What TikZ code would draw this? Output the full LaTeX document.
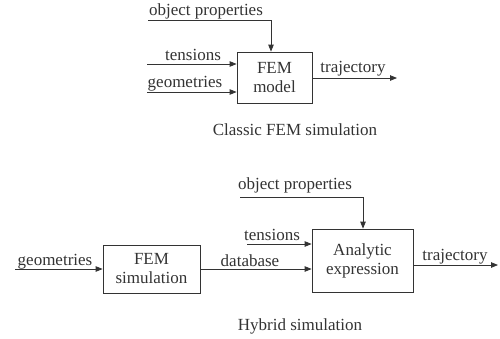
\documentclass[tikz,border=0pt]{standalone}
\usepackage{fontspec}
\setmainfont{Liberation Serif}
\usetikzlibrary{arrows.meta}
\definecolor{ink}{HTML}{333333}
\begin{document}
\begin{tikzpicture}[x=1pt,y=-1pt,
  font=\fontsize{17}{19}\selectfont,
  every node/.style={text=ink},
  box/.style={draw=ink, line width=0.8pt, align=center, inner sep=0pt},
  lbl/.style={anchor=base, inner sep=0pt},
  conn/.style={draw=ink, line width=0.8pt, -{Triangle[length=7pt,width=5.5pt]}}]
\useasboundingbox (0,0) rectangle (500,338);

% Classic FEM simulation
\node[box, minimum width=75pt, minimum height=51pt] (fem) at (274.5,77.5) {FEM\\model};
\coordinate (ops) at (148,20);
\coordinate (opc) at (271,20);
\draw[conn] (ops) -- (opc) -- (opc |- fem.north);
\node[lbl] (opl) at (206,15) {object properties};
\coordinate (tens) at (147,64);
\draw[conn] (tens) -- (tens -| fem.west);
\node[lbl] (tl) at (193,60) {tensions};
\coordinate (geos) at (147,92);
\draw[conn] (geos) -- (geos -| fem.west);
\node[lbl] (gl) at (185,87) {geometries};
\coordinate (traj) at (397,78);
\draw[conn] (fem.east |- traj) -- (traj);
\node[lbl] (trl) at (353,72) {trajectory};
\node[lbl] (cap1) at (295,135) {Classic FEM simulation};

% Hybrid simulation
\node[box, minimum width=97pt, minimum height=48pt] (sim) at (151.5,269) {FEM\\simulation};
\node[box, minimum width=101pt, minimum height=63pt] (ana) at (362.5,260.5) {Analytic\\expression};
\coordinate (g2) at (15,269);
\draw[conn] (g2) -- (g2 -| sim.west);
\node[lbl] (g2l) at (55,265) {geometries};
\draw[conn] (sim.east) -- (sim.east -| ana.west);
\node[lbl] (dbl) at (250,266) {database};
\coordinate (t2) at (247,244);
\draw[conn] (t2) -- (t2 -| ana.west);
\node[lbl] (t2l) at (272,240) {tensions};
\coordinate (op2s) at (240,197);
\coordinate (op2c) at (363,197);
\draw[conn] (op2s) -- (op2c) -- (op2c |- ana.north);
\node[lbl] (op2l) at (295,189) {object properties};
\coordinate (tr2) at (498,265);
\draw[conn] (ana.east |- tr2) -- (tr2);
\node[lbl] (tr2l) at (455,260) {trajectory};
\node[lbl] (cap2) at (300,330) {Hybrid simulation};
\end{tikzpicture}
\end{document}
